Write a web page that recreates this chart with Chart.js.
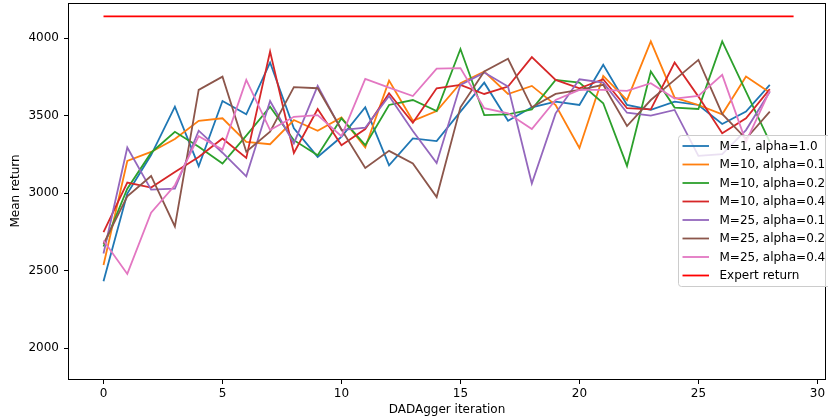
<!DOCTYPE html>
<html>
<head>
<meta charset="utf-8">
<script src="https://cdn.jsdelivr.net/npm/chart.js@4/dist/chart.umd.min.js"></script>
<style>
  html, body { margin: 0; padding: 0; background: #fff; }
  #wrap { width: 828px; height: 419px; }
</style>
</head>
<body>
<div id="wrap"><canvas id="chart" width="828" height="419"></canvas></div>
<script>
"use strict";

// DAgger runs: mean return per iteration
const ITERATIONS = [0, 1, 2, 3, 4, 5, 6, 7, 8, 9, 10, 11, 12, 13, 14,
                    15, 16, 17, 18, 19, 20, 21, 22, 23, 24, 25, 26, 27, 28];

const M1_A10 = [2430, 2996, 3245, 3557, 3173, 3594, 3508, 3842, 3417, 3233, 3363, 3553, 3179, 3352, 3335,
                3525, 3712, 3466, 3553, 3590, 3568, 3827, 3568, 3536, 3590, 3568, 3445, 3525, 3698];
const M10_A01 = [2536, 3207, 3265, 3348, 3466, 3482, 3330, 3315, 3471, 3402, 3488, 3294, 3725, 3466, 3529,
                 3709, 3784, 3639, 3691, 3568, 3291, 3756, 3600, 3978, 3615, 3568, 3508, 3751, 3648];
const M10_A02 = [2655, 3028, 3260, 3395, 3298, 3190, 3370, 3557, 3341, 3244, 3482, 3309, 3568, 3600, 3529,
                 3929, 3503, 3508, 3540, 3730, 3712, 3579, 3175, 3784, 3551, 3542, 3978, 3654, 3330];
const M10_A04 = [2747, 3067, 3035, 3136, 3233, 3352, 3227, 3913, 3259, 3542, 3309, 3413, 3644, 3453, 3676,
                 3698, 3639, 3687, 3877, 3730, 3676, 3734, 3547, 3540, 3842, 3622, 3385, 3482, 3670];
const M25_A01 = [2610, 3294, 3022, 3028, 3402, 3260, 3108, 3594, 3320, 3691, 3406, 3421, 3626, 3400, 3194,
                 3698, 3777, 3687, 3061, 3514, 3734, 3712, 3518, 3499, 3536, 3240, 3251, 3406, 3654];
const M25_A02 = [2672, 2979, 3110, 2784, 3665, 3751, 3266, 3395, 3683, 3676, 3410, 3162, 3272, 3190, 2974,
                 3553, 3784, 3866, 3553, 3639, 3665, 3698, 3432, 3600, 3730, 3859, 3510, 3350, 3525];
const M25_A04 = [2694, 2478, 2873, 3050, 3367, 3280, 3730, 3406, 3492, 3503, 3367, 3736, 3680, 3626, 3803,
                 3806, 3547, 3514, 3413, 3600, 3665, 3665, 3659, 3709, 3609, 3626, 3762, 3330, 3661];

const EXPERT_X = [0, 29];
const EXPERT_Y = [4140, 4140];

const X_TICKS = [0, 5, 10, 15, 20, 25, 30];
const Y_TICKS = [2000, 2500, 3000, 3500, 4000];

const SERIES = [
  ["M=1, alpha=1.0", M1_A10, "#1f77b4"],
  ["M=10, alpha=0.1", M10_A01, "#ff7f0e"],
  ["M=10, alpha=0.2", M10_A02, "#2ca02c"],
  ["M=10, alpha=0.4", M10_A04, "#d62728"],
  ["M=25, alpha=0.1", M25_A01, "#9467bd"],
  ["M=25, alpha=0.2", M25_A02, "#8c564b"],
  ["M=25, alpha=0.4", M25_A04, "#e377c2"],
];

const FONT = "'DejaVu Sans', sans-serif";
const LW = 1.8;

const pts = (xs, ys) => xs.map((x, i) => ({ x, y: ys[i] }));

const datasets = SERIES.map(([label, ys, color]) => ({
  label, data: pts(ITERATIONS, ys),
  borderColor: color, backgroundColor: color,
  borderWidth: LW, pointRadius: 0, tension: 0, fill: false,
}));
datasets.push({
  label: "Expert return", data: pts(EXPERT_X, EXPERT_Y),
  borderColor: "#ff0000", backgroundColor: "#ff0000",
  borderWidth: LW, pointRadius: 0, tension: 0, fill: false,
});
// matplotlib paints later lines on top; chart.js paints lower "order" last
datasets.forEach((d, i) => { d.order = datasets.length - i; });

// Full box around the axes, like matplotlib's four spines.
const frame = {
  id: "frame",
  afterDatasetsDraw(chart) {
    const { ctx, chartArea: { top, bottom, left, right } } = chart;
    ctx.save();
    ctx.strokeStyle = "#000"; ctx.lineWidth = 1;
    ctx.strokeRect(Math.round(left) - 0.5, Math.round(top) + 0.5,
                   Math.round(right - left) + 1, Math.round(bottom - top));
    ctx.restore();
  },
};

// In-axes legend with a translucent white box (centre right).
const boxLegend = {
  id: "boxLegend",
  afterDraw(chart) {
    const { ctx } = chart;
    const x0 = 678.5, y0 = 135.5, w = 170, h = 151, r = 3;
    ctx.save();
    ctx.beginPath();
    ctx.roundRect(x0, y0, w, h, r);
    ctx.fillStyle = "rgba(255,255,255,0.8)";
    ctx.fill();
    ctx.strokeStyle = "#cccccc"; ctx.lineWidth = 1;
    ctx.stroke();
    ctx.font = "12px " + FONT;
    ctx.textBaseline = "middle";
    ctx.fillStyle = "#000";
    chart.data.datasets.forEach((d, i) => {
      const y = 146 + 18.5 * i;
      ctx.beginPath();
      ctx.moveTo(682.5, y); ctx.lineTo(709, y);
      ctx.strokeStyle = d.borderColor; ctx.lineWidth = LW;
      ctx.stroke();
      ctx.fillText(d.label, 719.5, y + 0.5);
    });
    ctx.restore();
  },
};

new Chart(document.getElementById("chart"), {
  type: "line",
  data: { datasets },
  plugins: [frame, boxLegend],
  options: {
    responsive: false, animation: false, devicePixelRatio: 1,
    layout: { padding: { top: 3, right: 3, left: 0, bottom: 0 } },
    font: { family: FONT, size: 12 },
    color: "#000",
    plugins: { legend: { display: false }, tooltip: { enabled: false } },
    scales: {
      x: {
        type: "linear", min: -1.45, max: 30.32,
        afterBuildTicks: (s) => { s.ticks = X_TICKS.map((v) => ({ value: v })); },
        afterFit: (s) => { s.height = 40; s.paddingLeft = 0; s.paddingRight = 0; },
        ticks: { color: "#000", padding: 3, maxRotation: 0,
                 callback: (v) => String(v),
                 font: { family: FONT, size: 12 } },
        grid: { drawOnChartArea: false, drawTicks: true, tickLength: 5,
                tickColor: "#000", tickWidth: 1 },
        border: { display: false },
        title: { display: true, text: "DADAgger iteration", color: "#000",
                 font: { family: FONT, size: 12 }, padding: { top: 0, bottom: 2 } },
      },
      y: {
        type: "linear", min: 1800, max: 4226,
        afterBuildTicks: (s) => { s.ticks = Y_TICKS.map((v) => ({ value: v })); },
        afterFit: (s) => { s.width = 69; s.paddingTop = 0; s.paddingBottom = 0; },
        ticks: { color: "#000", padding: 5,
                 callback: (v) => String(v),
                 font: { family: FONT, size: 12 } },
        grid: { drawOnChartArea: false, drawTicks: true, tickLength: 5,
                tickColor: "#000", tickWidth: 1 },
        border: { display: false },
        title: { display: true, text: "Mean return", color: "#000",
                 font: { family: FONT, size: 12 }, padding: { top: 9, bottom: 0 } },
      },
    },
  },
});
</script>
</body>
</html>
